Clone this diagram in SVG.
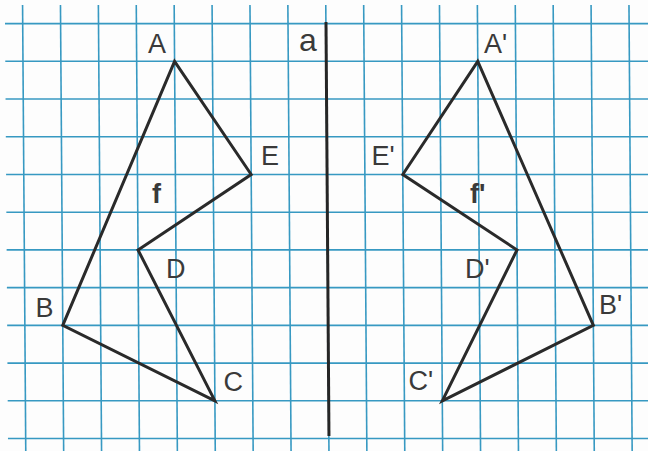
<svg xmlns="http://www.w3.org/2000/svg" width="648" height="451" viewBox="0 0 648 451">
  <style>
    .grid line { stroke: #3799c2; stroke-width: 1.6; }
    .fig { fill: none; stroke: #2a2a2a; stroke-width: 3; stroke-linejoin: miter; }
    .axis { stroke: #262626; stroke-width: 3; }
    text { font-family: "Liberation Sans", Arial, sans-serif; font-size: 27px; fill: #3a3a3a; }
    .b { font-weight: bold; }
  </style>
  <rect width="648" height="451" fill="#fdfdfd"/>
  <g transform="translate(0,23) skewX(0.41) translate(0,-23)">
    <g id="grid" class="grid">
      <line x1="22.7" y1="5" x2="22.7" y2="451"/>
      <line x1="60.6" y1="5" x2="60.6" y2="451"/>
      <line x1="98.5" y1="5" x2="98.5" y2="451"/>
      <line x1="136.4" y1="5" x2="136.4" y2="451"/>
      <line x1="174.3" y1="5" x2="174.3" y2="451"/>
      <line x1="212.2" y1="5" x2="212.2" y2="451"/>
      <line x1="250.1" y1="5" x2="250.1" y2="451"/>
      <line x1="288" y1="5" x2="288" y2="451"/>
      <line x1="325.9" y1="5" x2="325.9" y2="451"/>
      <line x1="363.8" y1="5" x2="363.8" y2="451"/>
      <line x1="401.7" y1="5" x2="401.7" y2="451"/>
      <line x1="439.6" y1="5" x2="439.6" y2="451"/>
      <line x1="477.5" y1="5" x2="477.5" y2="451"/>
      <line x1="515.4" y1="5" x2="515.4" y2="451"/>
      <line x1="553.3" y1="5" x2="553.3" y2="451"/>
      <line x1="591.2" y1="5" x2="591.2" y2="451"/>
      <line x1="629.1" y1="5" x2="629.1" y2="451"/>
      <line x1="5" y1="23.6" x2="652" y2="23.6"/>
      <line x1="5" y1="61.3" x2="652" y2="61.3"/>
      <line x1="5" y1="99" x2="652" y2="99"/>
      <line x1="5" y1="136.8" x2="652" y2="136.8"/>
      <line x1="5" y1="174.5" x2="652" y2="174.5"/>
      <line x1="5" y1="212.2" x2="652" y2="212.2"/>
      <line x1="5" y1="249.9" x2="652" y2="249.9"/>
      <line x1="5" y1="287.6" x2="652" y2="287.6"/>
      <line x1="5" y1="325.4" x2="652" y2="325.4"/>
      <line x1="5" y1="363.1" x2="652" y2="363.1"/>
      <line x1="5" y1="400.8" x2="652" y2="400.8"/>
      <line x1="5" y1="438.5" x2="652" y2="438.5"/>
    </g>
    <g id="axis-a">
      <line class="axis" x1="326" y1="22" x2="326" y2="436"/>
    </g>
    <g id="figure-f">
      <polygon class="fig" points="174.3,61.3 250.1,174.5 136.4,249.9 212.2,400.8 60.6,325.4"/>
    </g>
    <g id="figure-f-prime">
      <polygon class="fig" points="477.5,61.3 401.7,174.5 515.4,249.9 439.6,400.8 591.2,325.4"/>
    </g>
  </g>
  <g id="labels">
    <text x="148" y="53">A</text>
    <text x="299" y="51" style="font-size:32px">a</text>
    <text x="484" y="53">A'</text>
    <text x="261" y="165">E</text>
    <text x="371.5" y="165">E'</text>
    <text class="b" x="152" y="203">f</text>
    <text class="b" x="470" y="203">f'</text>
    <text x="166" y="278">D</text>
    <text x="465" y="278">D'</text>
    <text x="35.5" y="317">B</text>
    <text x="599" y="314">B'</text>
    <text x="223.5" y="391">C</text>
    <text x="408.5" y="390">C'</text>
  </g>
</svg>
